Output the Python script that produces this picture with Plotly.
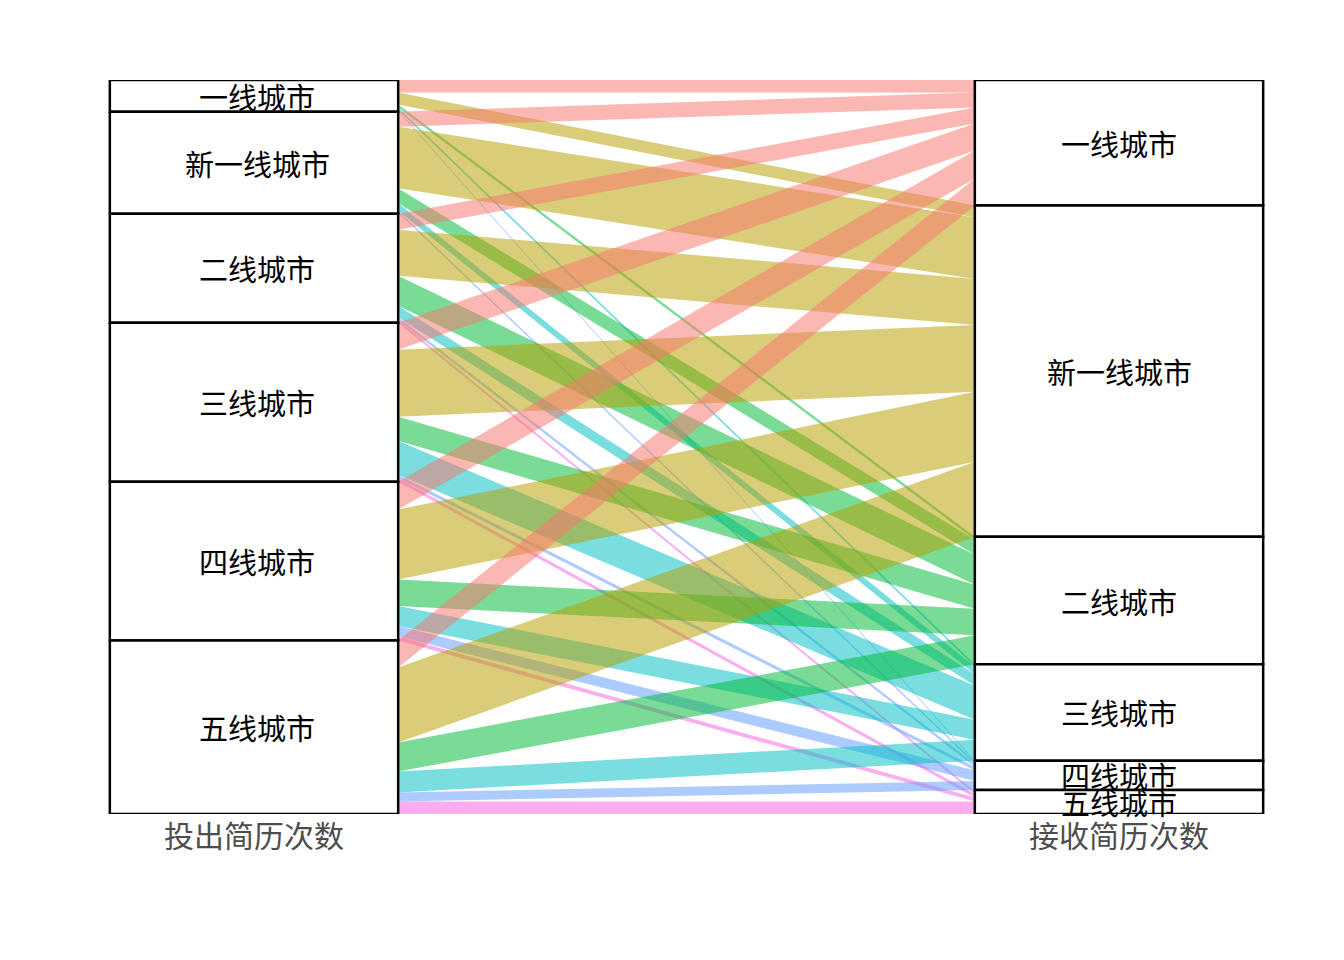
import plotly.graph_objects as go

# Categories (city tiers), top to bottom
tiers = ["一线城市", "新一线城市", "二线城市", "三线城市", "四线城市", "五线城市"]
axis_labels = ["投出简历次数", "接收简历次数"]

# Flow values: each list = one source tier (投出), entries by destination tier (接收)
src_tier1 = [12.5, 12.0, 3.0, 2.5, 1.2, 0.6]
src_newtier1 = [15.0, 61.5, 15.0, 7.5, 2.0, 1.0]
src_tier2 = [16.0, 46.0, 30.0, 11.5, 3.0, 2.5]
src_tier3 = [27.0, 67.0, 24.0, 34.0, 3.5, 3.5]
src_tier4 = [28.0, 70.0, 26.5, 20.0, 10.5, 4.0]
src_tier5 = [27.0, 75.0, 29.0, 21.0, 9.0, 12.5]
matrix = [src_tier1, src_newtier1, src_tier2, src_tier3, src_tier4, src_tier5]

colors = ["#F8766D", "#B79F00", "#00BA38", "#00BFC4", "#619CFF", "#F564E3"]
alpha = 0.52
font_family = "Noto Sans CJK SC"


def rgba(hexc, a):
    h = hexc.lstrip("#")
    return f"rgba({int(h[0:2],16)},{int(h[2:4],16)},{int(h[4:6],16)},{a})"


n = len(tiers)
src_tot = [sum(matrix[i]) for i in range(n)]
dst_tot = [sum(matrix[i][j] for i in range(n)) for j in range(n)]
V = sum(src_tot)

w = 1 / 3
xl, xr = 1, 2
xl_edge, xr_edge = xl + w / 2, xr - w / 2

# stratum tops
src_top = []
acc = V
for t in src_tot:
    src_top.append(acc)
    acc -= t
dst_top = []
acc = V
for t in dst_tot:
    dst_top.append(acc)
    acc -= t

fig = go.Figure()

# flows
for i in range(n):
    for j in range(n):
        v = matrix[i][j]
        lt = src_top[i] - sum(matrix[i][:j])
        rt = dst_top[j] - sum(matrix[k][j] for k in range(i))
        fig.add_trace(go.Scatter(
            x=[xl_edge, xr_edge, xr_edge, xl_edge, xl_edge],
            y=[lt, rt, rt - v, lt - v, lt],
            mode="lines", line=dict(width=0), fill="toself",
            fillcolor=rgba(colors[j], alpha), hoverinfo="skip", showlegend=False))

# strata
annotations = []
for xc, tops, tots, xs in [(xl, src_top, src_tot, 3), (xr, dst_top, dst_tot, 0)]:
    for i in range(n):
        top, bot = tops[i], tops[i] - tots[i]
        fig.add_trace(go.Scatter(
            x=[xc - w / 2, xc + w / 2, xc + w / 2, xc - w / 2, xc - w / 2],
            y=[top, top, bot, bot, top],
            mode="lines", line=dict(color="black", width=2.5), fill="toself",
            fillcolor="white", hoverinfo="skip", showlegend=False))
        annotations.append(dict(
            x=xc, y=top - tots[i] / 2, xref="x", yref="y", text=tiers[i],
            showarrow=False, xshift=xs, yshift=0,
            font=dict(family=font_family, size=29, color="black")))

px_per_unit = 865.0
x0 = 1 - 254 / px_per_unit
x1 = x0 + 1344 / px_per_unit

fig.update_layout(
    width=1344, height=960,
    margin=dict(l=0, r=0, t=80, b=146),
    paper_bgcolor="white", plot_bgcolor="white",
    annotations=annotations,
    xaxis=dict(range=[x0, x1], tickvals=[xl, xr], ticktext=axis_labels,
               tickfont=dict(family=font_family, size=30, color="#4D4D4D"),
               showgrid=False, zeroline=False, showline=False, ticks="",
               ticklabelstandoff=2),
    yaxis=dict(range=[0, V], visible=False),
)

fig.write_html("out.html")
